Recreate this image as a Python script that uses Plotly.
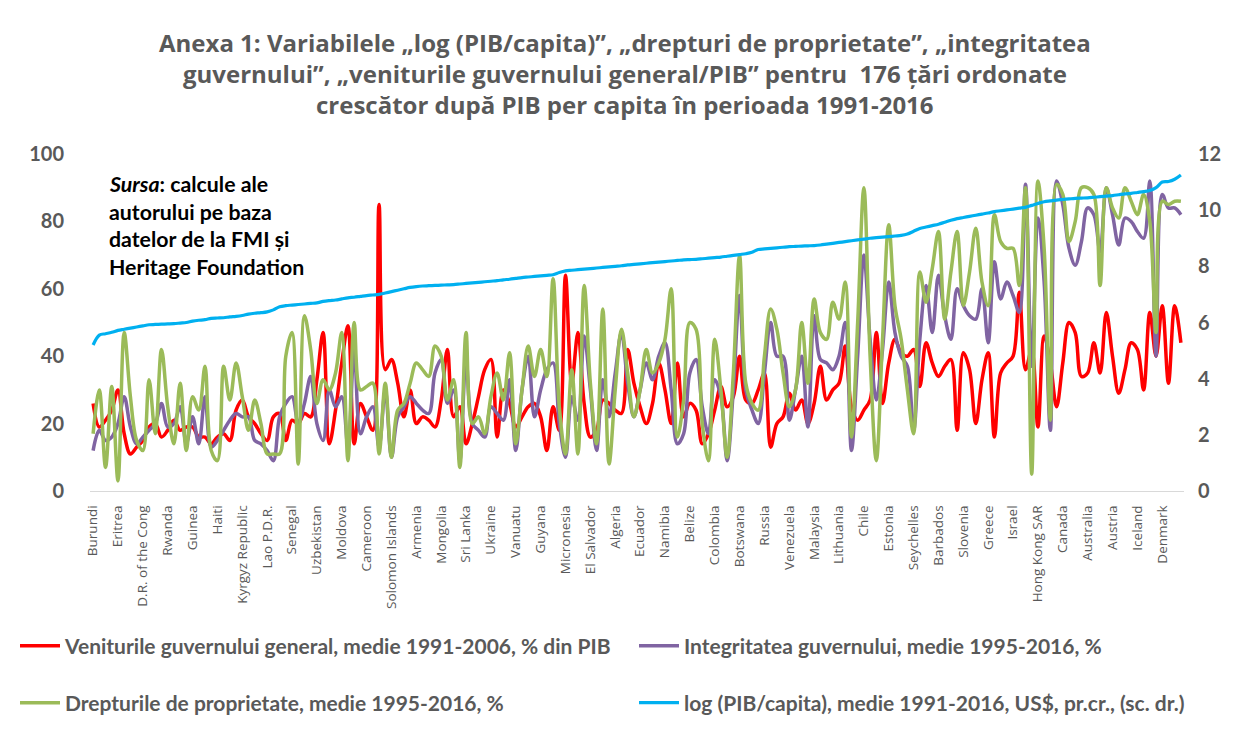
import plotly.graph_objects as go

# ---- data -----------------------------------------------------------------
tick_labels = ["Burundi", "Eritrea", "D.R. of the Cong", "Rwanda", "Guinea", "Haiti",
               "Kyrgyz Republic", "Lao P.D.R.", "Senegal", "Uzbekistan", "Moldova",
               "Cameroon", "Solomon Islands", "Armenia", "Mongolia", "Sri Lanka",
               "Ukraine", "Vanuatu", "Guyana", "Micronesia", "El Salvador", "Algeria",
               "Ecuador", "Namibia", "Belize", "Colombia", "Botswana", "Russia",
               "Venezuela", "Malaysia", "Lithuania", "Chile", "Estonia", "Seychelles",
               "Barbados", "Slovenia", "Greece", "Israel", "Hong Kong SAR", "Canada",
               "Australia", "Austria", "Iceland", "Denmark"]
n_countries = 176
country_index = list(range(n_countries))
tick_positions = list(range(0, n_countries, 4))

venituri = [26, 19, 21, 24, 30, 17, 11, 13, 15, 19, 20, 16, 18, 21, 18, 19, 19, 16, 16, 14,
            16, 17, 15, 24, 27, 22, 20, 17, 15, 22, 23, 15, 21, 20, 23, 22, 33, 47, 14, 24,
            38, 49, 14, 26, 22, 18, 85, 36, 39, 32, 22, 30, 20, 22, 21, 19, 27, 42, 22, 25,
            14, 20, 28, 36, 39, 16, 30, 26, 19, 22, 25, 26, 22, 12, 25, 18, 64, 32, 47, 26,
            16, 18, 27, 26, 24, 23, 42, 32, 25, 20, 26, 38, 30, 20, 38, 22, 26, 24, 14, 17,
            24, 31, 25, 28, 40, 27, 26, 30, 35, 13, 20, 22, 29, 24, 27, 20, 26, 37, 27, 30,
            32, 43, 25, 21, 24, 27, 47, 26, 38, 45, 41, 40, 42, 31, 44, 38, 34, 37, 39, 18,
            41, 36, 20, 33, 41, 16, 35, 38, 40, 59, 36, 42, 19, 46, 38, 25, 38, 50, 47, 34,
            35, 44, 35, 53, 40, 29, 36, 44, 42, 30, 53, 40, 55, 32, 55, 44]

integritate = [12, 18, 15, 16, 20, 28, 19, 14, 16, 18, 20, 26, 19, 20, 25, 14, 22, 14, 28, 13,
               15, 18, 21, 23, 22, 22, 15, 14, 12, 9, 22, 26, 28, 20, 26, 34, 20, 15, 30, 25,
               28, 13, 42, 17, 22, 25, 13, 30, 10, 22, 25, 28, 26, 24, 23, 35, 39, 26, 30, 9,
               39, 20, 18, 16, 25, 23, 21, 33, 12, 30, 40, 22, 30, 36, 38, 20, 10, 28, 21, 46,
               30, 12, 33, 22, 35, 47, 32, 22, 30, 38, 33, 40, 44, 30, 14, 17, 35, 39, 25, 17,
               33, 28, 9, 30, 58, 30, 24, 20, 35, 50, 40, 40, 21, 30, 40, 19, 52, 39, 38, 36,
               40, 50, 12, 40, 70, 45, 27, 42, 62, 47, 40, 37, 18, 45, 61, 47, 64, 52, 45, 60,
               55, 52, 51, 60, 44, 68, 57, 62, 58, 53, 91, 37, 81, 62, 18, 92, 85, 72, 67, 74,
               84, 82, 71, 90, 82, 73, 81, 80, 77, 75, 92, 40, 88, 84, 84, 82]

proprietate = [17, 30, 7, 31, 3, 47, 28, 15, 12, 33, 17, 42, 25, 14, 32, 12, 28, 24, 37, 12,
               9, 37, 27, 38, 28, 18, 27, 20, 11, 11, 11, 40, 47, 8, 52, 42, 26, 33, 30, 35,
               47, 9, 50, 30, 31, 32, 11, 32, 10, 24, 26, 32, 38, 36, 34, 43, 40, 27, 33, 7,
               47, 20, 22, 17, 28, 35, 27, 41, 14, 30, 43, 34, 42, 34, 63, 25, 11, 36, 11, 61,
               32, 14, 54, 8, 30, 48, 35, 22, 30, 42, 35, 38, 45, 60, 16, 27, 50, 48, 20, 9,
               45, 30, 10, 35, 70, 32, 26, 24, 40, 54, 48, 35, 25, 30, 50, 32, 57, 47, 45, 56,
               51, 62, 16, 50, 90, 40, 9, 45, 79, 55, 45, 30, 17, 65, 56, 66, 77, 51, 65, 77,
               55, 65, 78, 62, 55, 82, 74, 72, 72, 61, 90, 5, 92, 72, 21, 91, 88, 74, 80, 90,
               90, 88, 61, 90, 84, 81, 90, 86, 82, 88, 80, 47, 86, 85, 86, 86]

log_pib = [5.2, 5.55, 5.6, 5.65, 5.72, 5.76, 5.8, 5.84, 5.88, 5.92,
           5.93, 5.94, 5.95, 5.96, 5.98, 6.0, 6.05, 6.08, 6.1, 6.15,
           6.16, 6.17, 6.2, 6.22, 6.25, 6.3, 6.33, 6.35, 6.38, 6.45,
           6.56, 6.6, 6.62, 6.64, 6.66, 6.68, 6.7, 6.75, 6.78, 6.8,
           6.84, 6.88, 6.9, 6.93, 6.96, 6.98, 7.0, 7.05, 7.1, 7.15,
           7.2, 7.25, 7.28, 7.3, 7.31, 7.32, 7.33, 7.34, 7.35, 7.37,
           7.39, 7.41, 7.43, 7.45, 7.47, 7.49, 7.52, 7.54, 7.57, 7.6,
           7.62, 7.64, 7.66, 7.68, 7.7, 7.78, 7.84, 7.86, 7.88, 7.9,
           7.92, 7.94, 7.96, 7.98, 8.0, 8.02, 8.05, 8.07, 8.09, 8.11,
           8.13, 8.15, 8.17, 8.19, 8.21, 8.23, 8.24, 8.25, 8.27, 8.29,
           8.31, 8.33, 8.36, 8.39, 8.42, 8.45, 8.5, 8.6, 8.62, 8.64,
           8.66, 8.68, 8.7, 8.71, 8.72, 8.73, 8.74, 8.76, 8.79, 8.82,
           8.85, 8.88, 8.91, 8.94, 8.97, 9.0, 9.02, 9.04, 9.06, 9.08,
           9.1, 9.15, 9.25, 9.35, 9.4, 9.45, 9.5, 9.57, 9.64, 9.7,
           9.74, 9.78, 9.82, 9.86, 9.9, 9.95, 9.98, 10.01, 10.04, 10.07,
           10.1, 10.17, 10.24, 10.3, 10.33, 10.36, 10.38, 10.4, 10.42, 10.43,
           10.44, 10.46, 10.48, 10.5, 10.52, 10.55, 10.58, 10.6, 10.63, 10.66,
           10.7, 10.8, 11.0, 11.02, 11.1, 11.25]

series_names = ["Veniturile guvernului general, medie 1991-2006, % din PIB",
                "Integritatea guvernului, medie 1995-2016, %",
                "Drepturile de proprietate, medie 1995-2016, %",
                "log (PIB/capita), medie 1991-2016, US$, pr.cr., (sc. dr.)"]

title_lines = ["Anexa 1: Variabilele „log (PIB/capita)”, „drepturi de proprietate”, „integritatea",
               "guvernului”, „veniturile guvernului general/PIB” pentru  176 țări ordonate",
               "crescător după PIB per capita în perioada 1991-2016"]

source_lines = ["<i>Sursa</i>: calcule ale", "autorului pe baza",
                "datelor de la FMI și", "Heritage Foundation"]

# ---- figure ---------------------------------------------------------------
GRAY = "#595959"
W, H = 1250, 739
OFF = 8          # page offset of the figure inside the browser (body margin)
PL, PR, PT, PB = 90, 1184, 154, 491   # target plot area in page pixels
PW, PH = PR - PL, PB - PT

fig = go.Figure()

colors = ["#FF0000", "#8064A2", "#9BBB59", "#00B0F0"]
values = [venituri, integritate, proprietate, log_pib]
legend_ids = ["legend", "legend2", "legend3", "legend4"]
for k in range(4):
    fig.add_trace(go.Scatter(
        x=country_index, y=values[k], name=series_names[k], mode="lines",
        line=dict(color=colors[k], width=3.2 if k == 3 else 3.5, shape="spline", smoothing=1.0),
        yaxis="y2" if k == 3 else "y", legend=legend_ids[k]))

legend_font = dict(family="Lato", size=21, color=GRAY, weight="bold")
legend_pos = [(15, 646), (634, 646), (15, 703), (634, 703)]


def legend_cfg(px, py):
    return dict(xref="container", yref="container", x=(px - OFF) / W, y=1 - (py - OFF) / H,
                xanchor="left", yanchor="middle", font=legend_font,
                bgcolor="rgba(0,0,0,0)", itemwidth=40)


fig.update_layout(
    width=W, height=H,
    paper_bgcolor="white", plot_bgcolor="white",
    margin=dict(l=PL - OFF, r=W - (PR - OFF), t=PT - OFF, b=H - (PB - OFF), autoexpand=False),
    xaxis=dict(range=[-0.5, n_countries - 0.5], tickmode="array", tickvals=tick_positions,
               ticktext=tick_labels, tickangle=-90, showgrid=False, zeroline=False,
               showline=True, linecolor="#D9D9D9", linewidth=1, ticks="",
               ticklabelstandoff=8,
               tickfont=dict(family="Open Sans", size=13.5, color=GRAY)),
    yaxis=dict(range=[0, 100], dtick=20, showgrid=False, zeroline=False, showline=False,
               ticks="", ticklabelstandoff=25,
               tickfont=dict(family="Lato", size=20, color=GRAY, weight="bold")),
    yaxis2=dict(range=[0, 12], dtick=2, overlaying="y", side="right", showgrid=False,
                zeroline=False, showline=False, ticks="", ticklabelstandoff=13,
                tickfont=dict(family="Lato", size=20, color=GRAY, weight="bold")),
    legend=legend_cfg(*legend_pos[0]),
    legend2=legend_cfg(*legend_pos[1]),
    legend3=legend_cfg(*legend_pos[2]),
    legend4=legend_cfg(*legend_pos[3]),
    showlegend=True,
)

# title, one annotation per line to reproduce the line spacing
title_y = [42, 73, 104]
for line, py in zip(title_lines, title_y):
    fig.add_annotation(xref="paper", yref="paper", x=(625 - PL) / PW,
                       y=(PB - py) / PH, xanchor="center", yanchor="middle", showarrow=False,
                       text=line, font=dict(family="Open Sans", size=24, color=GRAY, weight="bold"))

src_y = [184, 212, 239, 267]
for line, py in zip(source_lines, src_y):
    fig.add_annotation(xref="paper", yref="paper", x=(107 - PL) / PW, y=(PB - py) / PH,
                       xanchor="left", yanchor="middle", showarrow=False, align="left",
                       text=line, font=dict(family="Lato", size=21.3, color="black", weight="bold"))

fig.write_html("out.html")
